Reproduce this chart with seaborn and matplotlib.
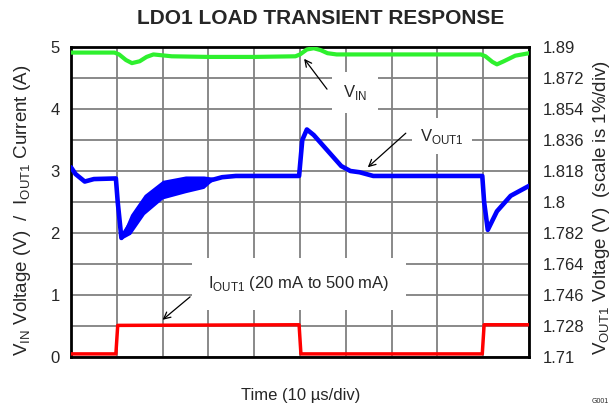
import numpy as np
import pandas as pd
import matplotlib
matplotlib.use('Agg')
import matplotlib.pyplot as plt
import seaborn as sns

sns.set_theme(style='white')
plt.rcParams['font.family'] = ['Liberation Sans', 'DejaVu Sans']
plt.rcParams['mathtext.fontset'] = 'custom'
plt.rcParams['mathtext.rm'] = 'Liberation Sans'

# time in divisions (10 us/div)
vin_t = [0, 0.5, 0.95, 1.05, 1.2, 1.33, 1.5, 1.65, 1.8, 2.2, 3, 4, 4.9, 5.0, 5.15, 5.3, 5.45, 5.6, 5.8,
         6.5, 7.5, 8.5, 8.95, 9.05, 9.2, 9.3, 9.45, 9.7, 10]
vin_v = [4.91, 4.91, 4.91, 4.88, 4.79, 4.74, 4.77, 4.84, 4.88, 4.85, 4.84, 4.84, 4.85, 4.88, 4.96, 4.98, 4.95,
         4.90, 4.88, 4.88, 4.88, 4.88, 4.88, 4.85, 4.76, 4.72, 4.77, 4.86, 4.90]

vout_t = [0, 0.1, 0.3, 0.5, 0.98, 1.02, 1.1, 1.3, 1.6, 2.0, 2.5, 2.9, 3.1, 3.3, 3.6, 4.0, 4.5, 4.98, 5.05,
          5.15, 5.3, 5.6, 5.9, 6.1, 6.3, 6.6, 7, 8, 8.98, 9.02, 9.1, 9.3, 9.6, 10]
vout_v = [3.06, 2.95, 2.83, 2.87, 2.88, 2.5, 1.92, 2.15, 2.45, 2.70, 2.78, 2.82, 2.86, 2.90, 2.92, 2.92, 2.92,
          2.92, 3.5, 3.67, 3.58, 3.33, 3.08, 3.0, 2.98, 2.92, 2.92, 2.92, 2.92, 2.5, 2.05, 2.35, 2.6, 2.76]

# ringing envelope after the load step
band_t = [1.1, 1.3, 1.6, 2.0, 2.5, 2.9, 3.1]
band_hi = [1.95, 2.3, 2.62, 2.85, 2.92, 2.92, 2.9]
band_lo = [1.9, 1.98, 2.3, 2.55, 2.65, 2.72, 2.85]

iout_t = [0, 0.98, 1.02, 4.98, 5.02, 8.98, 9.02, 10]
iout_v = [0.05, 0.05, 0.51, 0.52, 0.05, 0.05, 0.52, 0.52]

left_ticks = [0, 1, 2, 3, 4, 5]
right_ticks = [1.71, 1.728, 1.746, 1.764, 1.782, 1.8, 1.818, 1.836, 1.854, 1.872, 1.89]
right_labels = ['1.71', '1.728', '1.746', '1.764', '1.782', '1.8', '1.818', '1.836', '1.854', '1.872', '1.89']

W, H = 610, 408
fig = plt.figure(figsize=(W/100, H/100), dpi=100)
ax = fig.add_axes([71/W, 1-357/H, (529-71)/W, (357-47)/H])

ax.fill_between(band_t, band_lo, band_hi, color='#0000ff', lw=0, zorder=3)
sns.lineplot(x=vin_t, y=vin_v, color='#2ef02e', lw=3, ax=ax, zorder=3)
sns.lineplot(x=vout_t, y=vout_v, color='#0000ff', lw=3.3, ax=ax, zorder=3)
sns.lineplot(x=iout_t, y=iout_v, color='#ff0000', lw=2.5, ax=ax, zorder=3)

ax.set_xlim(0, 10)
ax.set_ylim(0, 5)
ax.set_xticks(range(11))
ax.set_xticklabels([])
ax.set_yticks(left_ticks)
ax.set_yticks([0.5, 1.5, 2.5, 3.5, 4.5], minor=True)
ax.grid(which='both', color='#808080', lw=1.3)
ax.set_axisbelow(True)
ax.tick_params(axis='both', which='both', length=0, labelsize=12, pad=8)
for s in ax.spines.values():
    s.set_color('black')
    s.set_linewidth(2)

ax2 = ax.twinx()
ax2.set_ylim(1.71, 1.89)
ax2.set_yticks(right_ticks)
ax2.set_yticklabels(right_labels)
ax2.tick_params(axis='y', length=0, labelsize=12, pad=10)
for s in ax2.spines.values():
    s.set_visible(False)

fig.text(321/W, 1-24/H, 'LDO1 LOAD TRANSIENT RESPONSE', fontsize=15, fontweight='bold',
         ha='center', va='baseline')
fig.text(301/W, 1-400/H, 'Time (10 µs/div)', fontsize=12, ha='center', va='baseline')
fig.text(23/W, 1-210/H, r'V$_{\mathregular{IN}}$ Voltage (V)  /  I$_{\mathregular{OUT1}}$ Current (A)',
         fontsize=13.5, rotation=90, ha='center', va='center')
fig.text(601/W, 1-207/H, r'V$_{\mathregular{OUT1}}$ Voltage (V)  (scale is 1%/div)',
         fontsize=13.5, rotation=90, ha='center', va='center')

arrow = dict(arrowstyle='->', color='black', lw=0.9, shrinkA=0, shrinkB=0)
ax.text(6.2, 4.27, r'V$_{\mathregular{IN}}$', fontsize=12, ha='center', va='center',
        bbox=dict(fc='white', ec='none', pad=8), zorder=5)
ax.annotate('', xy=(5.09, 4.81), xytext=(5.59, 4.32), arrowprops=arrow, zorder=6)
ax.text(8.1, 3.56, r'V$_{\mathregular{OUT1}}$', fontsize=12, ha='center', va='center',
        bbox=dict(fc='white', ec='none', pad=6), zorder=5)
ax.annotate('', xy=(6.48, 3.06), xytext=(7.31, 3.61), arrowprops=arrow, zorder=6)
ax.text(4.98, 1.18, r'I$_{\mathregular{OUT1}}$ (20 mA to 500 mA)', fontsize=12, ha='center', va='center',
        bbox=dict(fc='white', ec='none', pad=12), zorder=5)
ax.annotate('', xy=(2.0, 0.6), xytext=(2.6, 0.97), arrowprops=arrow, zorder=6)

fig.text(592/W, 1-403/H, 'G001', fontsize=5, ha='left', va='baseline')

fig.savefig('out.png', dpi=100)
